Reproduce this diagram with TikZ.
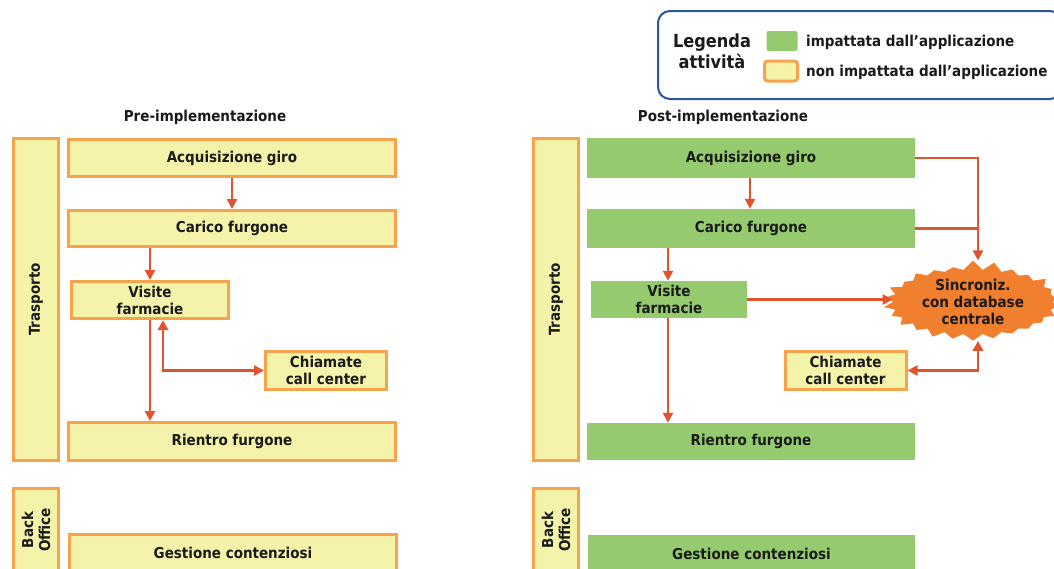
\documentclass[tikz,border=0pt]{standalone}
\usepackage{fontspec}
\setmainfont{DejaVu Sans Condensed}[BoldFont={DejaVu Sans Condensed Bold}]
\usetikzlibrary{arrows.meta,shapes.symbols}
\definecolor{yelfill}{HTML}{F5F3A9}
\definecolor{orgedge}{HTML}{F7A34B}
\definecolor{grnfill}{HTML}{95CB6E}
\definecolor{arrred}{HTML}{E0532C}
\definecolor{burst}{HTML}{F07F2E}
\definecolor{legblue}{HTML}{2C53A0}
\definecolor{ink}{HTML}{1A1A1A}
\begin{document}
\begin{tikzpicture}[x=1pt,y=-1pt,
  every node/.style={text=ink,font=\bfseries\fontsize{15}{17}\selectfont,align=center,inner sep=0pt},
  yelbox/.style={draw=orgedge,fill=yelfill,line width=3pt,rectangle},
  grnbox/.style={fill=grnfill,rectangle},
  lane/.style={yelbox,rotate=90},
  flow/.style={draw=arrred,line width=2.8pt,-{Triangle[length=10pt,width=10pt]}},
  flowboth/.style={draw=arrred,line width=2.8pt,{Triangle[length=10pt,width=10pt]}-{Triangle[length=10pt,width=10pt]}},
  link/.style={draw=arrred,line width=2.8pt},
  title/.style={font=\bfseries\fontsize{15}{17}\selectfont}]
\useasboundingbox (0,0) rectangle (1054,568);
\clip (0,0) rectangle (1054,568);

% legend
\node[draw=legblue,line width=2pt,rounded corners=12pt,minimum width=404pt,minimum height=88pt] (legend) at (860,55) {};
\node[font=\bfseries\fontsize{18}{21}\selectfont] (legtitle) at (712,51) {Legenda\\attività};
\node[grnbox,rounded corners=2pt,minimum width=31pt,minimum height=20pt] (swg) at (782,41) {};
\node[yelbox,rounded corners=3pt,minimum width=33pt,minimum height=20pt] (swy) at (781,71) {};
\node[anchor=west] (legg) at (806,42) {impattata dall’applicazione};
\node[anchor=west] (legy) at (806,72) {non impattata dall’applicazione};

% ---------- before ----------
\node[title] (pretitle) at (205,117) {Pre-implementazione};
\node[lane,minimum width=322pt,minimum height=45pt] (lT) at (36,299.5) {Trasporto};
\node[lane,minimum width=84pt,minimum height=45pt] (lB) at (36,530) {Back\\Office};
\node[yelbox,minimum width=327pt,minimum height=37pt] (lA) at (232,158) {Acquisizione giro};
\node[yelbox,minimum width=327pt,minimum height=36pt] (lC) at (232,228.5) {Carico furgone};
\node[yelbox,minimum width=157pt,minimum height=37pt] (lV) at (150,300) {Visite\\farmacie};
\node[yelbox,minimum width=121pt,minimum height=38pt] (lCh) at (326,370.5) {Chiamate\\call center};
\node[yelbox,minimum width=327pt,minimum height=38pt] (lR) at (232,441.5) {Rientro furgone};
\node[yelbox,minimum width=327pt,minimum height=38pt] (lG) at (233,553) {Gestione contenziosi};

\draw[flow] (lA.south) -- (lC.north);
\draw[flow] (lC.south -| lV.south) -- (lV.north);
\draw[flow] (lV.south) -- (lR.north -| lV.south);
\draw[flowboth] (lCh.west) -| ([xshift=13pt]lV.south);

% ---------- after ----------
\node[title] (posttitle) at (723,117) {Post-implementazione};
\node[lane,minimum width=322pt,minimum height=45pt] (rT) at (556,299.5) {Trasporto};
\node[lane,minimum width=84pt,minimum height=45pt] (rB) at (556,530) {Back\\Office};
\node[grnbox,minimum width=328pt,minimum height=40pt] (rA) at (751,158) {Acquisizione giro};
\node[grnbox,minimum width=328pt,minimum height=39pt] (rC) at (751,228.5) {Carico furgone};
\node[grnbox,minimum width=156pt,minimum height=37pt] (rV) at (669,299.5) {Visite\\farmacie};
\node[yelbox,minimum width=121pt,minimum height=38pt] (rCh) at (845.5,370.5) {Chiamate\\call center};
\node[grnbox,minimum width=328pt,minimum height=37pt] (rR) at (751,441.5) {Rientro furgone};
\node[grnbox,minimum width=327pt,minimum height=38pt] (rG) at (751.5,553.5) {Gestione contenziosi};
\node[starburst,fill=burst,starburst points=26,starburst point height=10pt,random starburst=7,
      minimum width=180pt,minimum height=82pt] (sync) at (973,302) {Sincroniz.\\con database\\centrale};

\coordinate (jn) at (978,158);
\draw[flow] (rA.east) -- (jn) -- (sync.north -| jn);
\draw[link] (rC.east) -- (rC.east -| jn);
\draw[flow] (rV.east) -- (rV.east -| sync.west);
\draw[flowboth] (rCh.east) -| (sync.south -| jn);
\draw[flow] (rA.south -| 750,0) -- (rC.north -| 750,0);
\draw[flow] (rC.south -| 668,0) -- (rV.north -| 668,0);
\draw[flow] (rV.south -| 668,0) -- (rR.north -| 668,0);
\end{tikzpicture}
\end{document}
